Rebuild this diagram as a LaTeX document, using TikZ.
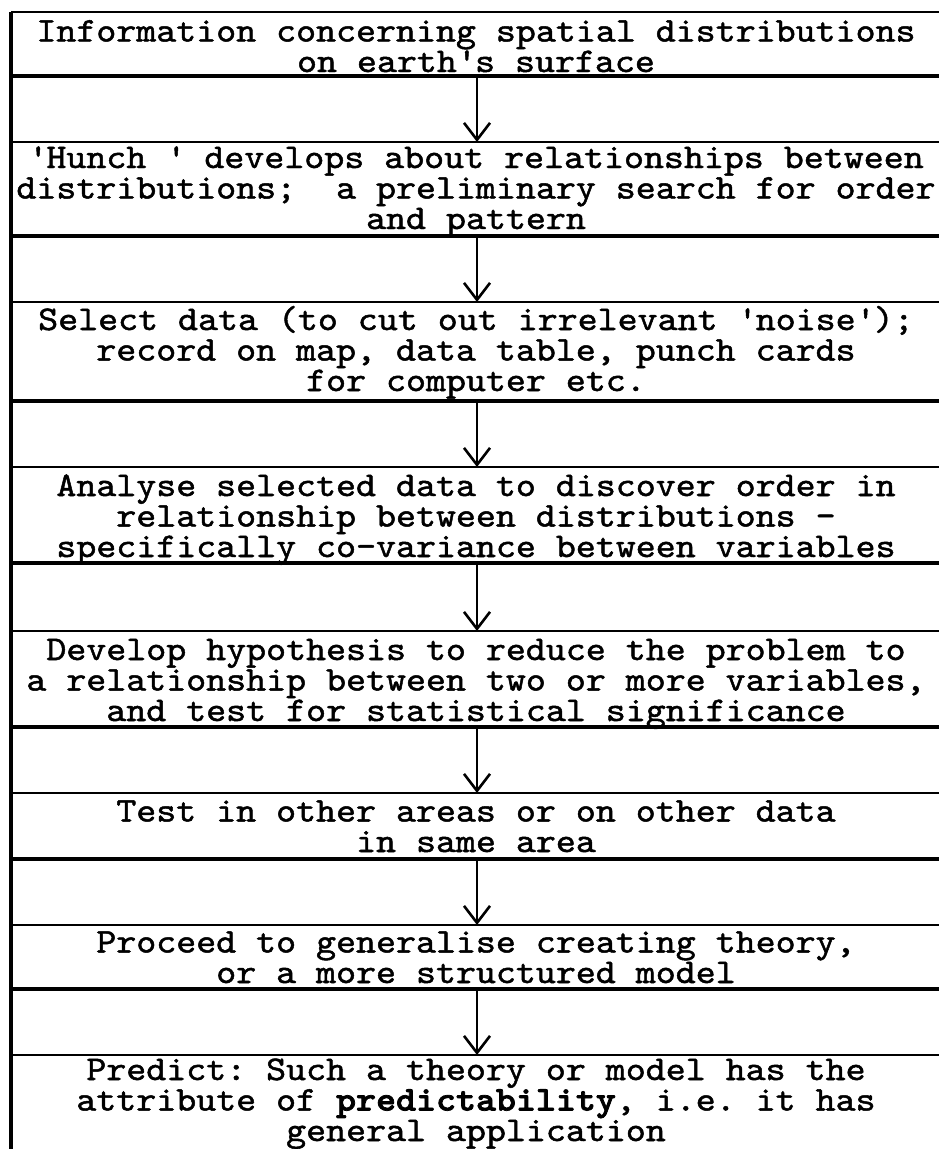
\documentclass[tikz,border=0pt]{standalone}
\usepackage{fontspec}
\usetikzlibrary{arrows.meta}
\newfontfamily\cour[Extension=.otf,FakeBold=1.4,FakeStretch=1.10,BoldFont=lmmonolt10-bold,BoldFeatures={FakeBold=2.2}]{lmmono10-regular}
\newcommand{\q}{\textquotesingle}
\begin{document}
\begin{tikzpicture}[x=1pt,y=-1pt,
  hline/.style={line width=2.6pt},
  tline/.style={line width=4.6pt},
  vline/.style={line width=3.2pt},
  arr/.style={line width=2.6pt,-{Straight Barb[length=17pt,width=26pt,line width=2.6pt]}},
  txt/.style={anchor=base,align=center,inner sep=0pt,
    font=\cour\fontsize{34.6}{30.5}\selectfont\frenchspacing}]
\useasboundingbox (0,0) rectangle (939,1149);
% frame: top line and left border
\coordinate (topL) at (11,12);
\coordinate (topR) at (939,12);
\coordinate (botL) at (11,1149);
\draw[hline] (topR) -- (topL);
\draw[vline] (topL) -- (botL);
% thick lines (bottom of each box) and thin lines (top of the next box)
\foreach \i/\t/\h in {1/76/142,2/236/302,3/401/467,4/563/631,5/727/793,6/859/925,7/989/1055}{
  \coordinate (kL\i) at (11,\t);
  \coordinate (kR\i) at (939,\t);
  \coordinate (hL\i) at (11,\h);
  \coordinate (hR\i) at (939,\h);
  \coordinate (a\i) at (477,\t);
  \coordinate (b\i) at (477,\h);
  \draw[tline] (kL\i) -- (kR\i);
  \draw[hline] (hL\i) -- (hR\i);
  \draw[arr] (a\i) -- (b\i);
}
% texts (anchor base = baseline of the last line)
\node[txt] (n1) at (476,72) {Information concerning spatial distributions\\on earth\q s surface};
\node[txt] (n2) at (476,229) {\q Hunch \q\ develops about relationships between\\distributions;\ \ a preliminary search for order\\and pattern};
\node[txt] (n3) at (476,391) {Select data (to cut out irrelevant \q noise\q);\\record on map, data table, punch cards\\for computer etc.};
\node[txt] (n4) at (476,557) {Analyse selected data to discover order in\\relationship between distributions -\\specifically co-variance between variables};
\node[txt] (n5) at (476,721) {Develop hypothesis to reduce the problem to\\a relationship between two or more variables,\\and test for statistical significance};
\node[txt] (n6) at (476,852) {Test in other areas or on other data\\in same area};
\node[txt] (n7) at (476,983) {Proceed to generalise creating theory,\\or a more structured model};
\node[txt] (n8) at (476,1141) {Predict: Such a theory or model has the\\attribute of \textbf{predictability}, i.e. it has\\general application};
\end{tikzpicture}
\end{document}
